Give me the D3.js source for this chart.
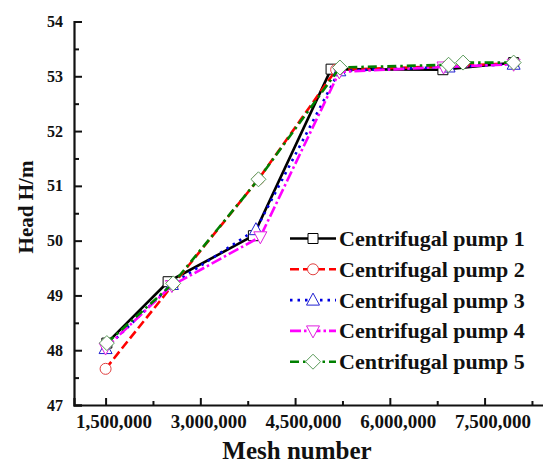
<!DOCTYPE html>
<html>
<head>
<meta charset="utf-8">
<script src="https://cdn.jsdelivr.net/npm/d3@7"></script>
<style>
  html, body { margin: 0; padding: 0; background: #fff; }
  svg { display: block; }
  text { font-family: "Liberation Serif", "Times New Roman", serif; fill: #111; }
</style>
</head>
<body>
<svg id="chart" width="543" height="466"></svg>
<script>
// Mesh-independence check: head vs. mesh count for five centrifugal pumps
const pumpNames = ["Centrifugal pump 1", "Centrifugal pump 2", "Centrifugal pump 3", "Centrifugal pump 4", "Centrifugal pump 5"];

const pump1Mesh = [1520000, 2490000, 3840000, 5070000, 6840000, 7960000];
const pump1Head = [48.13, 49.25, 50.09, 53.13, 53.12, 53.25];

const pump2Mesh = [1500000, 2570000, 3920000, 5150000, 6900000, 7960000];
const pump2Head = [47.66, 49.20, 51.12, 53.12, 53.18, 53.24];

const pump3Mesh = [1500000, 2550000, 3880000, 5200000, 6930000, 7960000];
const pump3Head = [48.03, 49.20, 50.20, 53.10, 53.17, 53.22];

const pump4Mesh = [1500000, 2550000, 3950000, 5200000, 6850000, 7960000];
const pump4Head = [48.04, 49.18, 50.07, 53.08, 53.17, 53.22];

const pump5Mesh = [1520000, 2570000, 3920000, 5210000, 6930000, 7160000, 7960000];
const pump5Head = [48.13, 49.22, 51.12, 53.16, 53.21, 53.25, 53.25];

const xTickValues = [1500000, 3000000, 4500000, 6000000, 7500000];
const yTickValues = [47, 48, 49, 50, 51, 52, 53, 54];

const series = [
  { name: pumpNames[0], mesh: pump1Mesh, head: pump1Head, color: "#000000", markerColor: "#000000", dash: null, symbol: "square" },
  { name: pumpNames[1], mesh: pump2Mesh, head: pump2Head, color: "#ff0000", markerColor: "#e04040", dash: "9,4", symbol: "circle" },
  { name: pumpNames[2], mesh: pump3Mesh, head: pump3Head, color: "#0000e0", markerColor: "#2020d0", dash: "2.5,5", symbol: "up" },
  { name: pumpNames[3], mesh: pump4Mesh, head: pump4Head, color: "#ff00ff", markerColor: "#e020e0", dash: "11,3,2.5,3", symbol: "down" },
  { name: pumpNames[4], mesh: pump5Mesh, head: pump5Head, color: "#008000", markerColor: "#5a9a5a", dash: "9,4,2.5,4", symbol: "diamond" }
];

const svg = d3.select("#chart");
const x0 = 74, y0 = 405;
const x = d3.scaleLinear().domain([1000000, 8500000]).range([x0, x0 + 473.75]);
const y = d3.scaleLinear().domain([47, 54]).range([y0, 21.5]);

// Marker shapes drawn as paths centred on (0,0)
function markerPath(kind) {
  switch (kind) {
    case "square": return "M-5,-5H5V5H-5Z";
    case "circle": return d3.symbol(d3.symbolCircle, 95)();
    case "up": return "M0,-7L6.5,5H-6.5Z";
    case "down": return "M0,7L6.5,-5H-6.5Z";
    case "diamond": return "M0,-7.5L7.5,0L0,7.5L-7.5,0Z";
  }
}

// Axes
const xAxis = d3.axisBottom(x).tickValues(xTickValues).tickFormat(d3.format(",")).tickSize(-7).tickPadding(10);
const xMinor = d3.axisBottom(x).tickValues(d3.range(2250000, 8500001, 1500000)).tickFormat("").tickSize(-4);
const yAxis = d3.axisLeft(y).tickValues(yTickValues).tickFormat(d3.format("d")).tickSize(-8).tickPadding(11);
const yMinor = d3.axisLeft(y).tickValues(d3.range(47.5, 54, 1)).tickFormat("").tickSize(-5);

function styleAxis(g) {
  g.select(".domain").attr("stroke", "#111").attr("stroke-width", 2.2);
  g.selectAll(".tick line").attr("stroke", "#111").attr("stroke-width", 2);
}

const gx = svg.append("g").attr("transform", `translate(0,${y0})`).call(xAxis).call(styleAxis);
gx.selectAll(".tick text").attr("font-size", 19).attr("font-weight", "bold")
  .attr("font-family", "Liberation Serif").attr("fill", "#111").attr("dx", 8);
svg.append("g").attr("transform", `translate(0,${y0})`).call(xMinor).call(styleAxis).select(".domain").remove();

const gy = svg.append("g").attr("transform", `translate(${x0},0)`).call(yAxis).call(styleAxis);
gy.selectAll(".tick text").attr("font-size", 16).attr("font-weight", "bold")
  .attr("font-family", "Liberation Serif").attr("fill", "#111");
svg.append("g").attr("transform", `translate(${x0},0)`).call(yMinor).call(styleAxis).select(".domain").remove();

// Axis titles
svg.append("text").attr("x", 297).attr("y", 459).attr("text-anchor", "middle")
  .attr("font-size", 25).attr("font-weight", "bold").text("Mesh number");
svg.append("text").attr("transform", "translate(33,207) rotate(-90)").attr("text-anchor", "middle")
  .attr("font-size", 21).attr("font-weight", "bold").text("Head H/m");

// Series lines and markers
const line = d3.line().x(d => x(d[0])).y(d => y(d[1]));
series.forEach(s => {
  const pts = s.mesh.map((m, i) => [m, s.head[i]]);
  svg.append("path").datum(pts).attr("d", line)
    .attr("fill", "none").attr("stroke", s.color).attr("stroke-width", 2.6)
    .attr("stroke-dasharray", s.dash).attr("stroke-linejoin", "round");
  svg.append("g").selectAll("path").data(pts).join("path")
    .attr("transform", d => `translate(${x(d[0])},${y(d[1])})`)
    .attr("d", markerPath(s.symbol))
    .attr("fill", "#fff").attr("stroke", s.markerColor).attr("stroke-width", 1);
});

// Legend
const legend = svg.append("g");
series.forEach((s, i) => {
  const cy = 238.5 + i * 30.8;
  legend.append("line").attr("x1", 290).attr("x2", 336).attr("y1", cy).attr("y2", cy)
    .attr("stroke", s.color).attr("stroke-width", 2.6).attr("stroke-dasharray", s.dash);
  legend.append("path").attr("transform", `translate(313,${cy})`).attr("d", markerPath(s.symbol))
    .attr("fill", "#fff").attr("stroke", s.markerColor).attr("stroke-width", 1);
  legend.append("text").attr("x", 339).attr("y", cy + 7.5)
    .attr("font-size", 22).attr("font-weight", "bold").text(s.name);
});
</script>
</body>
</html>
